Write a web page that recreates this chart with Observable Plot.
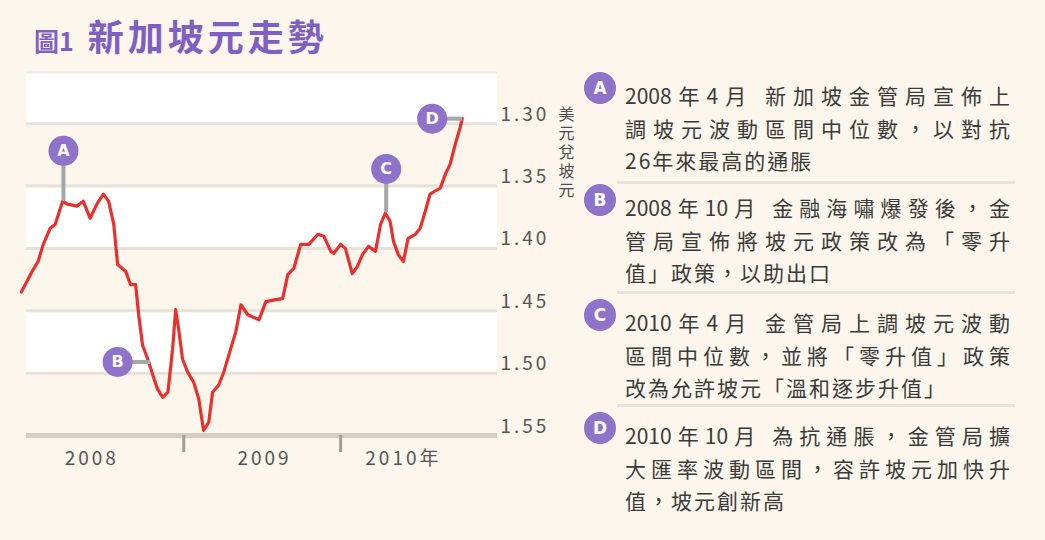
<!DOCTYPE html>
<html><head><meta charset="utf-8">
<script src="https://cdn.jsdelivr.net/npm/d3@7"></script>
<script src="https://cdn.jsdelivr.net/npm/@observablehq/plot@0.6"></script>
<style>
body{margin:0;background:#fdf6ec;width:1045px;height:540px;overflow:hidden;position:relative;font-family:"Noto Sans CJK TC","Noto Sans",sans-serif;}
#title{position:absolute;left:34px;top:9px;color:#7e60c4;font-weight:bold;white-space:nowrap;}
#title .fig{font-size:25px;}
#title .main{font-size:36px;letter-spacing:4px;margin-left:14px;}
#chart{position:absolute;left:0;top:50px;}
#chart svg text.sp{letter-spacing:3px;}
#chart svg text.vert{writing-mode:vertical-rl;text-orientation:upright;letter-spacing:3px;}
#notes{position:absolute;left:580px;top:0;width:465px;height:540px;}
.badge{position:absolute;width:32px;height:32px;border-radius:50%;background:#8f73ca;color:#fff;font:bold 17px "DejaVu Sans",sans-serif;text-align:center;line-height:32px;}
.ln{position:absolute;left:45px;width:385px;font-size:21px;color:#3b3b3b;line-height:21px;height:21px;letter-spacing:2px;}
.ln.full{text-align:justify;text-align-last:justify;letter-spacing:0;}
.sep{position:absolute;left:37px;width:398px;height:3px;background:#e8e3dc;}
</style></head>
<body>
<div id="title"><span class="fig">圖1</span><span class="main">新加坡元走勢</span></div>
<div id="chart"></div>
<div id="notes"></div>
<script>
// ---- data ----
const dates = ["2007-12-20","2008-01-14","2008-01-28","2008-02-09","2008-02-25","2008-03-08","2008-03-25","2008-04-05","2008-04-28","2008-05-12","2008-05-28","2008-06-14","2008-06-28","2008-07-10","2008-07-22","2008-07-31","2008-08-19","2008-08-30","2008-09-11","2008-09-18","2008-09-27","2008-10-09","2008-10-21","2008-11-01","2008-11-13","2008-11-25","2008-12-06","2008-12-13","2008-12-20","2008-12-29","2009-01-10","2009-01-24","2009-02-05","2009-02-16","2009-02-28","2009-03-09","2009-03-23","2009-04-04","2009-04-20","2009-05-02","2009-05-14","2009-05-30","2009-06-25","2009-07-11","2009-08-03","2009-08-19","2009-08-31","2009-09-14","2009-09-30","2009-10-19","2009-11-09","2009-11-23","2009-12-09","2009-12-16","2010-01-01","2010-01-12","2010-01-28","2010-02-09","2010-02-21","2010-03-07","2010-03-23","2010-04-04","2010-04-15","2010-04-26","2010-05-04","2010-05-15","2010-05-27","2010-06-07","2010-06-24","2010-07-05","2010-07-17","2010-07-28","2010-08-09","2010-08-21","2010-09-02","2010-09-13","2010-09-25","2010-10-06","2010-10-11"];
const values = [1.435,1.4185,1.4105,1.3968,1.3839,1.3806,1.3621,1.3645,1.3661,1.3621,1.3758,1.3637,1.3565,1.3621,1.3806,1.4129,1.4185,1.429,1.429,1.4532,1.4774,1.4887,1.5016,1.5129,1.5194,1.5153,1.4806,1.449,1.4645,1.4887,1.4992,1.5073,1.521,1.546,1.5395,1.5153,1.5097,1.4992,1.4806,1.4669,1.4452,1.4532,1.4573,1.4427,1.4411,1.4403,1.421,1.4161,1.3968,1.3968,1.3887,1.3903,1.4024,1.404,1.3968,1.4,1.4202,1.4145,1.4048,1.3984,1.4024,1.3806,1.3718,1.3782,1.3944,1.4048,1.4105,1.3919,1.3887,1.3839,1.3702,1.3565,1.354,1.3516,1.3403,1.3323,1.3161,1.3032,1.296];

const yTicks = [1.30, 1.35, 1.40, 1.45, 1.50, 1.55];
const yDomain = [1.55, 1.259];
const whiteBandLows = [1.259, 1.35, 1.45];
const whiteBandHighs = [1.30, 1.40, 1.50];
const yLabel = "美元兌坡元";
const xDomain = ["2008-01-01", "2011-01-01"];
const yearBoundaries = ["2009-01-01", "2010-01-01"];
const xLabelTexts = ["2008", "2009", "2010年"];
const xLabelDates = ["2008-06-01", "2009-07-08", "2010-05-27"];

const annLetters = ["A", "B", "C", "D"];
const annDates = ["2008-03-27", "2008-10-15", "2010-04-17", "2010-10-11"];
const annValues = [1.362, 1.491, 1.371, 1.296];
const badgeDates = ["2008-03-27", "2008-07-31", "2010-04-17", "2010-08-02"];
const badgeValues = [1.3218, 1.491, 1.3363, 1.296];

const noteLines = [
  ["2008年4月 新加坡金管局宣佈上", "調坡元波動區間中位數，以對抗", "26年來最高的通脹"],
  ["2008年10月 金融海嘯爆發後，金", "管局宣佈將坡元政策改為「零升", "值」政策，以助出口"],
  ["2010年4月 金管局上調坡元波動", "區間中位數，並將「零升值」政策", "改為允許坡元「溫和逐步升值」"],
  ["2010年10月 為抗通脹，金管局擴", "大匯率波動區間，容許坡元加快升", "值，坡元創新高"]
];

// ---- tables ----
const rows = dates.map((d, i) => ({date: new Date(d), value: values[i]}));
const bands = whiteBandLows.map((lo, i) => ({lo, hi: whiteBandHighs[i]}));
const anns = annLetters.map((l, i) => ({letter: l, date: new Date(annDates[i]), value: annValues[i], bDate: new Date(badgeDates[i]), bValue: badgeValues[i]}));
const xLabels = xLabelTexts.map((t, i) => ({text: t, date: new Date(xLabelDates[i])}));
const font = '"Noto Sans CJK TC", "Noto Sans", sans-serif';

const chart = Plot.plot({
  width: 590, height: 440,
  marginLeft: 26, marginRight: 93, marginTop: 22, marginBottom: 55,
  style: {background: "transparent", fontFamily: font, overflow: "visible"},
  x: {type: "utc", domain: xDomain.map(d => new Date(d)), axis: null},
  y: {domain: yDomain, axis: null},
  marks: [
    Plot.rect(bands, {y1: "lo", y2: "hi", fill: "#ffffff"}),
    Plot.ruleY([yDomain[1]], {stroke: "#efeae3", strokeWidth: 2}),
    Plot.ruleY(yTicks.slice(0, -1), {stroke: "#e6e1d9", strokeWidth: 3}),
    Plot.ruleY([yTicks[yTicks.length - 1]], {stroke: "#d4cec6", strokeWidth: 5}),
    Plot.axisX({ticks: yearBoundaries.map(d => new Date(d)), tickSize: 17, tickFormat: () => "", stroke: "#a39d95", strokeWidth: 3, label: null}),
    Plot.text(xLabels, {x: "date", text: "text", frameAnchor: "bottom", dy: 29, fontSize: 19, fill: "#555"}),
    Plot.text(yTicks, {y: d => d, text: d => d.toFixed(2), frameAnchor: "right", textAnchor: "start", dx: 3, dy: -9, fontSize: 19, fill: "#555"}),
    Plot.text([yLabel], {frameAnchor: "top-right", dx: 69, dy: 22, textAnchor: "start", lineAnchor: "top", fontSize: 16, fill: "#4d4d4d"}),
    Plot.line(rows, {x: "date", y: "value", stroke: "#e8302c", strokeWidth: 3.2, strokeLinejoin: "round"}),
    Plot.link(anns, {x1: "bDate", y1: "bValue", x2: "date", y2: "value", stroke: "#a6a6a6", strokeWidth: 4}),
    Plot.dot(anns, {x: "bDate", y: "bValue", r: 15, fill: "#8f73ca"}),
    Plot.text(anns, {x: "bDate", y: "bValue", text: "letter", fill: "#ffffff", fontWeight: "bold", fontSize: 16, fontFamily: "DejaVu Sans"})
  ]
});
chart.querySelectorAll("text").forEach(t => {
  if (/^[0-9.年]+$/.test(t.textContent)) t.classList.add("sp");   // widened tick lettering
  if (t.textContent === yLabel) { t.classList.add("vert"); t.removeAttribute("dy"); }
});
document.getElementById("chart").appendChild(chart);

// ---- notes panel ----
const notes = document.getElementById("notes");
const blockTops = [85, 197, 312, 425];   // first-line top of each block
const lineStep = 32.5;
const sepTops = [181, 291, 404];
noteLines.forEach((lines, b) => {
  const badge = document.createElement("div");
  badge.className = "badge";
  badge.textContent = annLetters[b];
  badge.style.left = "4px";
  badge.style.top = (blockTops[b] - 13) + "px";
  notes.appendChild(badge);
  lines.forEach((t, i) => {
    const d = document.createElement("div");
    d.className = "ln" + (i < lines.length - 1 ? " full" : "");
    d.textContent = t;
    d.style.top = (blockTops[b] + i * lineStep) + "px";
    notes.appendChild(d);
  });
});
sepTops.forEach(t => {
  const s = document.createElement("div");
  s.className = "sep";
  s.style.top = t + "px";
  notes.appendChild(s);
});
</script>
</body></html>
